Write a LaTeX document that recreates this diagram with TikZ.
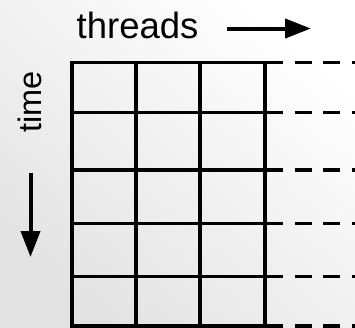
\documentclass[tikz,border=0pt]{standalone}
\usepackage{fontspec}
\setmainfont{Liberation Sans}
\usetikzlibrary{arrows.meta}
\begin{document}
\begin{tikzpicture}[x=1pt,y=-1pt,
  gridline/.style={line width=3.3pt, black},
  gridtail/.style={line width=3.3pt, black, dash pattern=on 17pt off 11.5pt},
  axisarrow/.style={line width=4pt, black, -{Triangle[length=26pt,width=19pt]}},
  label/.style={inner sep=0pt, text=black}]
  % page and soft grey backdrop
  \useasboundingbox (0,0) rectangle (355,327);
  \shade[top color=white, bottom color=black!11, shading angle=-40] (0,0) rectangle (355,327);

  % axis labels
  \node[label, anchor=base west, font=\fontsize{36.5}{40}\selectfont] (threads) at (76.5,38) {threads};
  \node[label, anchor=base west, rotate=90, font=\fontsize{32.5}{36}\selectfont] (time) at (41.5,133) {time};

  % direction arrows
  \coordinate (tstart) at (227,28.5);
  \coordinate (tend) at (311,28.5);
  \draw[axisarrow] (tstart) -- (tend);
  \coordinate (dstart) at (30.5,173);
  \coordinate (dend) at (30.5,257);
  \draw[axisarrow] (dstart) -- (dend);

  % the block grid: 3 columns of threads, 5 time steps
  \foreach \yy in {62.5,112.7,170,223.3,276.7,326} {
    \draw[gridline] (72,\yy) -- (265,\yy);
    \draw[gridtail] (266,\yy) -- (360,\yy);
  }
  \foreach \xx in {72,136,200,265} {
    \draw[gridline, line cap=rect] (\xx,62.5) -- (\xx,326);
  }
\end{tikzpicture}
\end{document}
